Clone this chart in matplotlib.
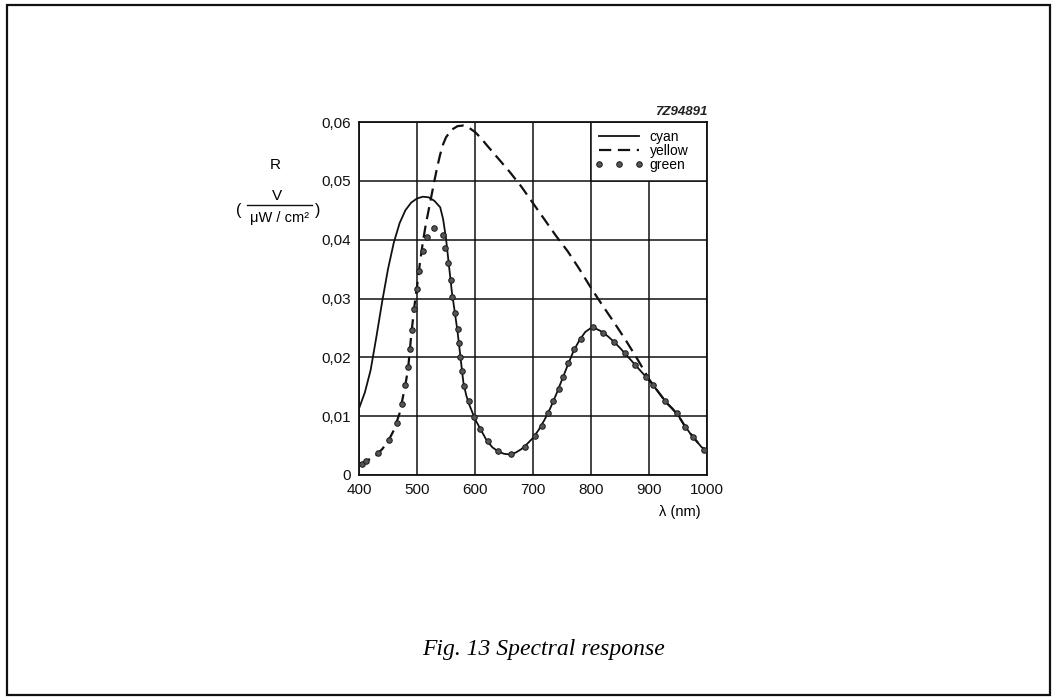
import matplotlib
matplotlib.use("Agg")
import matplotlib.pyplot as plt
from matplotlib.patches import Rectangle
from matplotlib.lines import Line2D

plt.rcParams['font.family'] = ['Liberation Sans', 'DejaVu Sans']

# cyan (solid line)
cyan_nm = [400, 410, 420, 430, 440, 450, 460, 470, 480, 490, 500, 510, 520, 530,
           540, 545, 550, 555, 560, 565, 570, 575, 580, 585, 590, 600, 610, 620,
           630, 640, 650, 660, 670, 680, 690, 700, 710, 720, 730, 740, 750, 760,
           770, 780, 790, 800, 810, 820, 830, 840, 850, 860, 870, 880, 890, 900,
           910, 920, 930, 940, 950, 960, 970, 980, 990, 1000]
cyan_r = [0.0113, 0.0140, 0.0178, 0.0235, 0.0295, 0.0350, 0.0395, 0.0428, 0.0450,
          0.0463, 0.0470, 0.0473, 0.0472, 0.0466, 0.0455, 0.0435, 0.0402, 0.0357,
          0.0312, 0.0278, 0.0243, 0.0200, 0.0157, 0.0135, 0.0120, 0.0095, 0.0077,
          0.0059, 0.0047, 0.0040, 0.0036, 0.0035, 0.0038, 0.0044, 0.0053, 0.0063,
          0.0077, 0.0094, 0.0114, 0.0137, 0.0162, 0.0187, 0.0211, 0.0229, 0.0243,
          0.0250, 0.0248, 0.0243, 0.0235, 0.0226, 0.0216, 0.0205, 0.0194, 0.0183,
          0.0172, 0.0161, 0.0149, 0.0136, 0.0123, 0.0113, 0.0102, 0.0086, 0.0072,
          0.0060, 0.0048, 0.0040]

# yellow (dashed line)
yellow_nm = [400, 410, 420, 430, 440, 450, 460, 470, 480, 485, 490, 495, 500, 505,
             510, 515, 520, 525, 530, 535, 540, 545, 550, 560, 570, 580, 590, 600,
             610, 620, 640, 660, 680, 700, 720, 740, 760, 780, 800, 820, 840, 860,
             880, 900, 910, 920, 930, 940, 950, 960, 970, 980, 990, 1000]
yellow_r = [0.0018, 0.0022, 0.0028, 0.0034, 0.0044, 0.0057, 0.0076, 0.0105, 0.0153,
            0.0184, 0.0237, 0.0283, 0.0320, 0.0360, 0.0395, 0.0425, 0.0450, 0.0475,
            0.0500, 0.0524, 0.0545, 0.0562, 0.0574, 0.0587, 0.0593, 0.0594, 0.0590,
            0.0583, 0.0573, 0.0561, 0.0538, 0.0515, 0.0490, 0.0462, 0.0434, 0.0406,
            0.0380, 0.0350, 0.0318, 0.0288, 0.0259, 0.0229, 0.0197, 0.0163, 0.0149,
            0.0136, 0.0123, 0.0113, 0.0102, 0.0086, 0.0072, 0.0060, 0.0048, 0.0040]

# green (dots)
green_nm = [405, 412, 433, 452, 466, 474, 480, 484, 488, 491, 495, 500, 503, 510,
            518, 530, 544, 548, 553, 559, 561, 566, 570, 573, 575, 577, 581, 589,
            598, 609, 622, 640, 662, 686, 703, 715, 726, 735, 744, 752, 761, 771,
            782, 804, 821, 840, 859, 876, 895, 907, 928, 948, 962, 976, 994]
green_r = [0.0019, 0.0023, 0.0037, 0.0060, 0.0088, 0.0120, 0.0153, 0.0184, 0.0215,
           0.0247, 0.0283, 0.0316, 0.0346, 0.0380, 0.0405, 0.0420, 0.0408, 0.0386,
           0.0360, 0.0332, 0.0303, 0.0275, 0.0249, 0.0224, 0.0201, 0.0177, 0.0151,
           0.0125, 0.0099, 0.0079, 0.0057, 0.0040, 0.0035, 0.0048, 0.0066, 0.0084,
           0.0105, 0.0125, 0.0146, 0.0167, 0.0190, 0.0214, 0.0232, 0.0251, 0.0242,
           0.0226, 0.0207, 0.0187, 0.0167, 0.0153, 0.0125, 0.0105, 0.0082, 0.0065,
           0.0043]

x_ticks = [400, 500, 600, 700, 800, 900, 1000]
y_ticks = [0, 0.01, 0.02, 0.03, 0.04, 0.05, 0.06]
y_labels = ['0', '0,01', '0,02', '0,03', '0,04', '0,05', '0,06']

W, H = 1052, 700
fig = plt.figure(figsize=(W / 100, H / 100), dpi=100)
ax = fig.add_axes([359 / W, 1 - 475 / H, 348 / W, 353 / H])

ax.plot(cyan_nm, cyan_r, color='#111111', lw=1.3, label='cyan', zorder=3)
ax.plot(yellow_nm, yellow_r, color='#111111', lw=1.6, ls=(0, (5.5, 3)),
        label='yellow', zorder=3)
ax.plot(green_nm, green_r, ls='none', marker='o', ms=4.0, mfc='#555555',
        mec='#1a1a1a', mew=0.7, label='green', zorder=4)

ax.set_xlim(400, 1000)
ax.set_ylim(0, 0.06)
ax.set_xticks(x_ticks)
ax.set_yticks(y_ticks)
ax.set_yticklabels(y_labels)
ax.tick_params(length=0, labelsize=11, pad=6, colors='#111111')
ax.grid(True, color='#111111', lw=1.1)
for s in ax.spines.values():
    s.set_linewidth(1.3)
    s.set_color('#111111')

# white box behind the legend, filling the top-right cells
ax.add_patch(Rectangle((800, 0.05), 200, 0.01, facecolor='white',
                       edgecolor='#111111', lw=1.1, zorder=2.5))
leg = ax.legend(loc='upper left', bbox_to_anchor=(0.678, 0.978), frameon=False,
                borderpad=0, borderaxespad=0, fontsize=10, handlelength=3.5,
                handletextpad=0.45, labelspacing=0.0, numpoints=3)
leg.set_zorder(5)

# texts around the axes
fig.text(707 / W, 1 - 112 / H, '7Z94891', ha='right', va='center',
         fontsize=9.5, style='italic', fontweight='bold', color='#222222')
fig.text(680 / W, 1 - 512 / H, 'λ (nm)', ha='center', va='center', fontsize=10.5)

fig.text(275 / W, 1 - 165 / H, 'R', ha='center', va='center', fontsize=11)
fig.text(277 / W, 1 - 196 / H, 'V', ha='center', va='center', fontsize=11)
fig.add_artist(Line2D([247 / W, 312 / W], [1 - 205 / H, 1 - 205 / H],
                      color='#111111', lw=1.0))
fig.text(279 / W, 1 - 218 / H, 'μW / cm²', ha='center', va='center', fontsize=10.5)
fig.text(239 / W, 1 - 211 / H, '(', ha='center', va='center', fontsize=11.5)
fig.text(318 / W, 1 - 211 / H, ')', ha='center', va='center', fontsize=11.5)

fig.text(543 / W, 1 - 650 / H, 'Fig. 13 Spectral response', ha='center',
         va='center', fontsize=17, family='Liberation Serif', style='italic')

# frame around the page
fig.add_artist(Rectangle((7 / W, 5 / H), 1043 / W, 690 / H, transform=fig.transFigure,
                         fill=False, edgecolor='#111111', lw=1.6))

fig.savefig('out.png', dpi=100, facecolor='white')
